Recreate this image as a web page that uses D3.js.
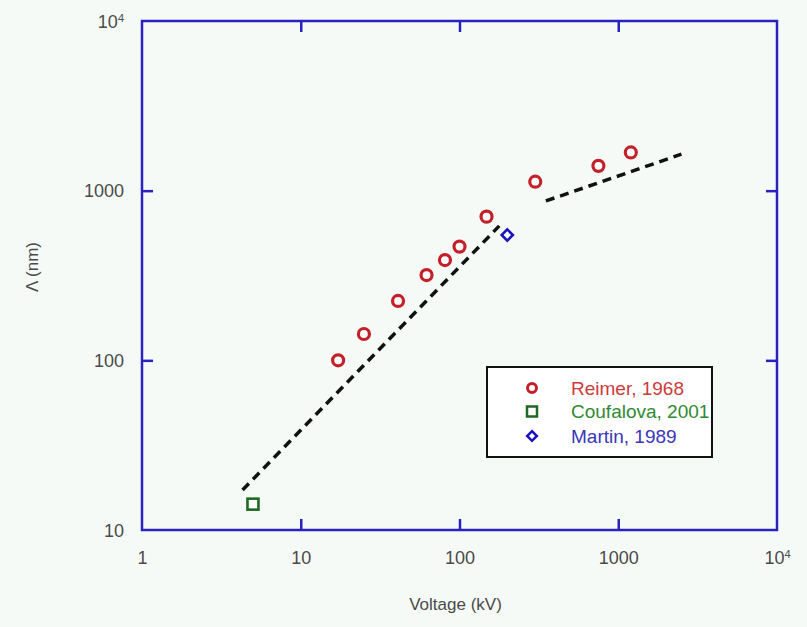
<!DOCTYPE html>
<html>
<head>
<script src="https://cdnjs.cloudflare.com/ajax/libs/d3/7.8.5/d3.min.js"></script>
  <meta charset="utf-8">
  <title>Lambda vs voltage</title>
</head>
<style>
body { margin: 0; background: #f6faf6; }
svg { font-family: "Liberation Sans", Arial, sans-serif; }
.lbl { font-size: 18px; fill: #4a4a4a; }
.ttl { font-size: 17px; fill: #4a4a4a; }
</style>
<body>
<script>

// Reimer, 1968
var reimerV = [17.2, 25, 41, 62, 81, 100, 148, 300, 750, 1200];
var reimerL = [100, 143, 224, 318, 390, 468, 703, 1130, 1400, 1680];
// Coufalova, 2001
var coufV = [5];
var coufL = [14.2];
// Martin, 1989
var martinV = [200];
var martinL = [548];
// dashed fits
var fit1V = [4.3, 178];
var fit1L = [17.2, 620];
var fit2V = [350, 2500];
var fit2L = [870, 1640];

var xTicks = [1, 10, 100, 1000, 10000];
var yTicks = [10, 100, 1000, 10000];
var legendNames = ["Reimer, 1968", "Coufalova, 2001", "Martin, 1989"];

var W = 807, H = 627;
var m = {left: 142, top: 21, right: 30, bottom: 97};
var w = W - m.left - m.right, h = H - m.top - m.bottom;
var blue = "#2a22c0";

var svg = d3.select("body").append("svg").attr("width", W).attr("height", H);
var g = svg.append("g").attr("transform", "translate(" + m.left + "," + m.top + ")");

var x = d3.scaleLog().domain([1, 10000]).range([0, w]);
var y = d3.scaleLog().domain([10, 10000]).range([h, 0]);

function fmt(d) { return d >= 10000 ? "10" : String(d); }
function sup(sel) {
  sel.selectAll("text").filter(function(d) { return d >= 10000; })
    .append("tspan").attr("dy", "-0.55em").attr("font-size", "11px").text("4");
}

// labels
var xl = g.append("g").attr("transform", "translate(0," + h + ")")
  .call(d3.axisBottom(x).tickValues(xTicks).tickFormat(fmt).tickSize(0).tickPadding(21));
var yl = g.append("g")
  .call(d3.axisLeft(y).tickValues(yTicks).tickFormat(fmt).tickSize(0).tickPadding(18));
[xl, yl].forEach(function(a) {
  a.select(".domain").remove();
  a.selectAll("text").attr("class", "lbl").attr("font-size", null).attr("font-family", null);
  sup(a);
});
yl.selectAll("text").attr("dy", "0.35em");

// inward ticks on all four sides
var inner = [10, 100, 1000], innerY = [100, 1000];
var axes = [
  g.append("g").attr("transform", "translate(0," + h + ")").call(d3.axisBottom(x).tickValues(inner).tickSize(-11).tickFormat("")),
  g.append("g").call(d3.axisTop(x).tickValues(inner).tickSize(-11).tickFormat("")),
  g.append("g").call(d3.axisLeft(y).tickValues(innerY).tickSize(-11).tickFormat("")),
  g.append("g").attr("transform", "translate(" + w + ",0)").call(d3.axisRight(y).tickValues(innerY).tickSize(-11).tickFormat(""))
];
axes.forEach(function(a) {
  a.select(".domain").remove();
  a.selectAll("line").attr("stroke", blue).attr("stroke-width", 2.5);
});
g.append("rect").attr("width", w).attr("height", h)
  .attr("fill", "none").attr("stroke", blue).attr("stroke-width", 2.5);

// dashed fit lines
var line = d3.line().x(function(d) { return x(d[0]); }).y(function(d) { return y(d[1]); });
[[fit1V, fit1L], [fit2V, fit2L]].forEach(function(f) {
  g.append("path").datum(d3.zip(f[0], f[1])).attr("d", line)
    .attr("fill", "none").attr("stroke", "#111").attr("stroke-width", 3.5)
    .attr("stroke-dasharray", "9,6");
});

// markers
var red = "#c4202a", green = "#1f6a22", dblue = "#1a14c0";
g.selectAll(".reimer").data(d3.zip(reimerV, reimerL)).enter().append("circle")
  .attr("cx", function(d) { return x(d[0]); }).attr("cy", function(d) { return y(d[1]); })
  .attr("r", 5.5).attr("fill", "#fff").attr("stroke", red).attr("stroke-width", 3.2);
g.selectAll(".couf").data(d3.zip(coufV, coufL)).enter().append("rect")
  .attr("x", function(d) { return x(d[0]) - 5.5; }).attr("y", function(d) { return y(d[1]) - 5.5; })
  .attr("width", 11).attr("height", 11).attr("fill", "#fff").attr("stroke", green).attr("stroke-width", 2.6);
var diamond = d3.symbol().type(d3.symbolDiamond2).size(80);
g.selectAll(".martin").data(d3.zip(martinV, martinL)).enter().append("path")
  .attr("transform", function(d) { return "translate(" + x(d[0]) + "," + y(d[1]) + ")"; })
  .attr("d", diamond).attr("fill", "#fff").attr("stroke", dblue).attr("stroke-width", 2.6);

// legend
var lg = svg.append("g").attr("transform", "translate(487,367)");
lg.append("rect").attr("width", 225).attr("height", 90)
  .attr("fill", "#fff").attr("stroke", "#111").attr("stroke-width", 2);
var rows = [21, 44.5, 69];
var textCol = ["#cc3a3a", "#2f8a33", "#3a36b8"];
lg.append("circle").attr("cx", 45).attr("cy", rows[0]).attr("r", 4.5)
  .attr("fill", "#fff").attr("stroke", red).attr("stroke-width", 3);
lg.append("rect").attr("x", 40).attr("y", rows[1] - 5).attr("width", 10).attr("height", 10)
  .attr("fill", "#fff").attr("stroke", green).attr("stroke-width", 2.5);
lg.append("path").attr("transform", "translate(45," + rows[2] + ")")
  .attr("d", d3.symbol().type(d3.symbolDiamond2).size(60))
  .attr("fill", "#fff").attr("stroke", dblue).attr("stroke-width", 2.5);
lg.selectAll(".lt").data(legendNames).enter().append("text")
  .attr("x", 84).attr("y", function(d, i) { return rows[i]; }).attr("dy", "0.35em")
  .attr("font-size", "19px").attr("fill", function(d, i) { return textCol[i]; })
  .text(function(d) { return d; });

// axis titles
svg.append("text").attr("class", "ttl").attr("x", m.left + w / 2 - 4).attr("y", 610)
  .attr("text-anchor", "middle").text("Voltage (kV)");
svg.append("text").attr("class", "ttl").attr("transform", "translate(38,267) rotate(-90)")
  .attr("text-anchor", "middle").text("\u039B (nm)");

</script>
</body>
</html>
